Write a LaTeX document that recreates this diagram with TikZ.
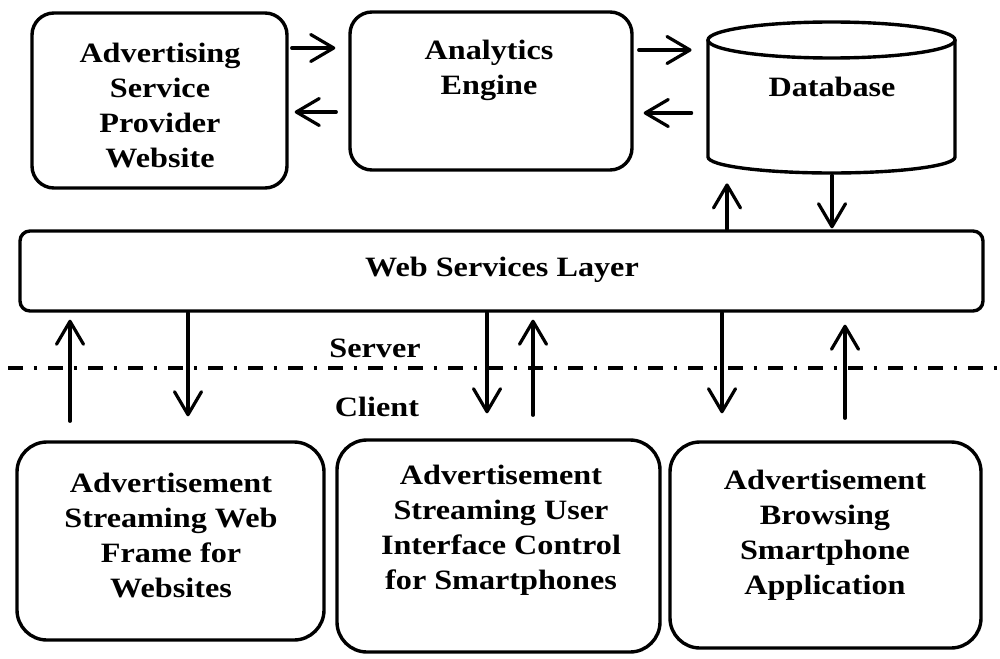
\documentclass[tikz,border=0pt]{standalone}
\usepackage{fontspec}
\setmainfont[FakeStretch=1.15]{Liberation Serif}
\usetikzlibrary{arrows.meta}

\begin{document}
\begin{tikzpicture}[x=0.5pt,y=-0.5pt,
  outline/.style={draw=black, line width=1.7pt},
  rbox/.style={outline, rectangle, inner sep=0pt, rounded corners=#1},
  rbox/.default=11pt,
  lbl/.style={align=center, inner sep=0pt, font=\fontsize{14}{17.5}\selectfont\bfseries},
  arr/.style={line width=1.6pt, line cap=round,
    -{Straight Barb[length=11.5pt,width=13.5pt,line width=1.6pt,round]}},
  divider/.style={line width=1.7pt, dash pattern=on 7.5pt off 5.25pt on 1.5pt off 5.75pt}
]
\useasboundingbox (0,0) rectangle (1000,658);

% ---------- server side ----------
\node[rbox=11pt, minimum width=127.5pt, minimum height=87.5pt] (asp) at (159.5,100.5) {};
\node[lbl] (asp-t) at (160,105) {Advertising\\Service\\Provider\\Website};

\node[rbox=11pt, minimum width=141pt, minimum height=79pt] (ae) at (491,91) {};
\node[lbl] (ae-t) at (489,70) {Analytics\\Engine};

% database cylinder drawn around an invisible anchor node
\node[inner sep=0pt, minimum width=123.5pt, minimum height=75.5pt] (db) at (831.5,97.5) {};
\draw[outline, fill=white] (708,40) -- (708,157)
  arc[start angle=180, end angle=0, x radius=123.5, y radius=16] -- (955,40);
\draw[outline] (831.5,40) ellipse [x radius=123.5, y radius=18];
\node[lbl] (db-t) at (832,87) {Database};

\node[rbox=5pt, minimum width=481.5pt, minimum height=40pt] (wsl) at (501.5,271) {};
\node[lbl] (wsl-t) at (502,270) {Web Services Layer};

% ---------- client side ----------
\node[rbox=15pt, minimum width=153.5pt, minimum height=99pt] (b1) at (170.5,541) {};
\node[lbl] (b1-t) at (171,535) {Advertisement\\Streaming Web\\Frame for\\Websites};

\node[rbox=15pt, minimum width=161.5pt, minimum height=106pt] (b2) at (498.5,546) {};
\node[lbl] (b2-t) at (501,530) {Advertisement\\Streaming User\\Interface Control\\for Smartphones};

\node[rbox=15pt, minimum width=155.5pt, minimum height=103pt] (b3) at (825.5,545) {};
\node[lbl] (b3-t) at (825,535) {Advertisement\\Browsing\\Smartphone\\Application};

% ---------- server / client divider ----------
\coordinate (sepL) at (8,368);
\coordinate (sepR) at (997,368);
\draw[divider] (sepL) -- (sepR);
\node[lbl] (server) at (375,348) {Server};
\node[lbl] (client) at (377,407) {Client};

% ---------- horizontal connectors ----------
\coordinate (yA) at (0,48);
\coordinate (yB) at (0,112);
\coordinate (yC) at (0,50);
\coordinate (yD) at (0,113);
\draw[arr, shorten <=1.5pt, shorten >=6.5pt] (asp.east |- yA) -- (ae.west |- yA);
\draw[arr, shorten <=6pt, shorten >=3pt] (ae.west |- yB) -- (asp.east |- yB);
\draw[arr, shorten <=2.5pt, shorten >=8pt] (ae.east |- yC) -- (db.west |- yC);
\draw[arr, shorten <=8pt, shorten >=5pt] (db.west |- yD) -- (ae.east |- yD);

% ---------- vertical connectors ----------
\coordinate (xA) at (727,0);
\coordinate (xB) at (832,0);
\draw[arr, shorten >=5pt] (wsl.north -| xA) -- (db.south -| xA);
\draw[arr, shorten <=1pt, shorten >=0.5pt] (db.south -| xB) -- (wsl.north -| xB);

\coordinate (x1) at (70,0);
\coordinate (x2) at (188,0);
\coordinate (x3) at (487,0);
\coordinate (x4) at (533,0);
\coordinate (x5) at (722,0);
\coordinate (x6) at (845,0);
\draw[arr, shorten <=9.5pt, shorten >=3.5pt] (b1.north -| x1) -- (wsl.south -| x1);
\draw[arr, shorten >=12pt] (wsl.south -| x2) -- (b1.north -| x2);
\draw[arr, shorten >=12.5pt] (wsl.south -| x3) -- (b2.north -| x3);
\draw[arr, shorten <=11.5pt, shorten >=3.5pt] (b2.north -| x4) -- (wsl.south -| x4);
\draw[arr, shorten >=13.5pt] (wsl.south -| x5) -- (b3.north -| x5);
\draw[arr, shorten <=11pt, shorten >=6pt] (b3.north -| x6) -- (wsl.south -| x6);
\end{tikzpicture}
\end{document}
